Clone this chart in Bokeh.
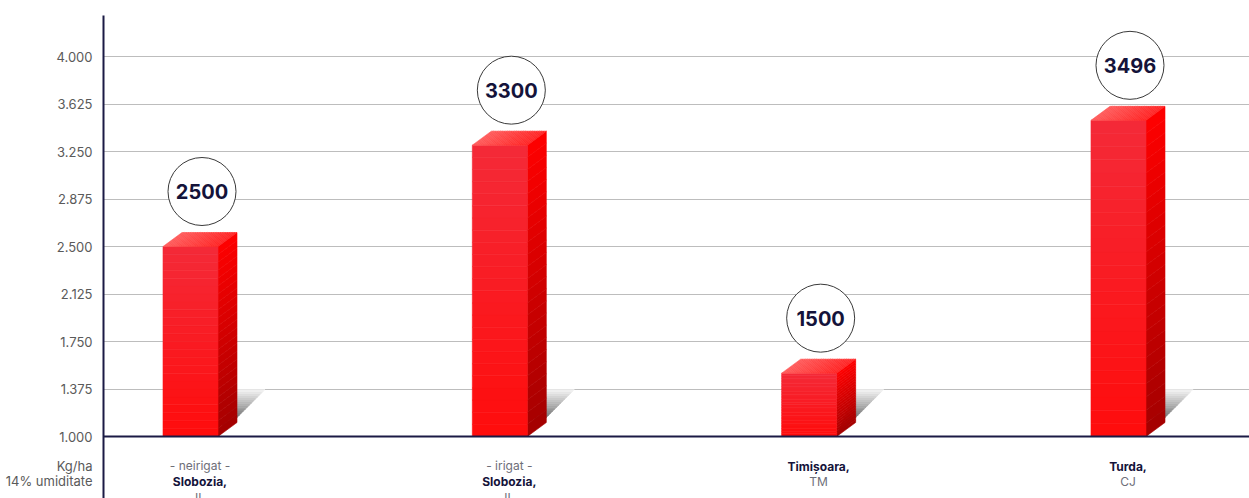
import numpy as np
from bokeh.plotting import figure
from bokeh.models import Range1d, FixedTicker, Span
from bokeh.core.properties import value
from bokeh.embed import file_html
from bokeh.resources import INLINE

# ---------------- data ----------------
top_notes = ["- neirigat -", "- irigat -", "", ""]
locations = ["Slobozia,", "Slobozia,", "Timișoara,", "Turda,"]
counties = ["IL", "IL", "TM", "CJ"]
yields = [2500, 3300, 1500, 3496]
tick_values = [1000, 1375, 1750, 2125, 2500, 2875, 3250, 3625, 4000]
tick_labels = ["1.000", "1.375", "1.750", "2.125", "2.500", "2.875", "3.250", "3.625", "4.000"]
unit_main = "Kg/ha"
unit_sub = "14% umiditate"

# ---------------- layout constants ----------------
W, H = 1249, 498
BL, BT = 103, 15
FW, FH = W - BL, H - BT
CAT_PX = 309.33          # px between categories
FIRST_PX = 87            # px of first bar centre from frame left
BASE = 1000
UY = 3000 / 380.0        # data units per px (y)
UX = 1.0 / CAT_PX        # data units per px (x)
y_end = BASE + 421 * UY
y_start = y_end - FH * UY
x_start = -FIRST_PX * UX
x_end = x_start + FW * UX

NAVY = "#1b1a45"
FONT = "Inter"

p = figure(width=W, height=H, output_backend="svg", toolbar_location=None,
           x_range=Range1d(x_start, x_end), y_range=Range1d(y_start, y_end),
           min_border_left=BL, min_border_top=BT, min_border_right=0, min_border_bottom=0,
           outline_line_color=None)
p.xaxis.visible = False
p.xgrid.visible = False
p.ygrid.ticker = FixedTicker(ticks=tick_values)
p.ygrid.grid_line_color = "#bdbdbd"
p.ygrid.grid_line_width = 1

# unit captions placed on the y axis, below the baseline
unit_pos = [BASE - (465 - 436) * UY, BASE - (480 - 436) * UY]
yax = p.yaxis[0]
yax.ticker = FixedTicker(ticks=tick_values + unit_pos)
overrides = {v: l for v, l in zip(tick_values, tick_labels)}
overrides[unit_pos[0]] = unit_main
overrides[unit_pos[1]] = unit_sub
yax.major_label_overrides = overrides
yax.axis_line_color = NAVY
yax.axis_line_width = 2
yax.major_tick_line_color = None
yax.minor_tick_line_color = None
yax.major_tick_out = 0
yax.major_tick_in = 0
yax.major_label_standoff = 11
yax.major_label_text_font = FONT
yax.major_label_text_font_size = "13px"
yax.major_label_text_color = "#5a5a5a"

BW = 55 * UX
DX = 19 * UX
DY = 14 * UY
SH_H = 47 * UY
SH_W = 28 * UX


def lerp_col(c1, c2, t):
    a = np.array([int(c1[i:i + 2], 16) for i in (1, 3, 5)], float)
    b = np.array([int(c2[i:i + 2], 16) for i in (1, 3, 5)], float)
    c = a + (b - a) * t
    return "#%02x%02x%02x" % tuple(int(round(v)) for v in c)


xs_all, ys_all, cols = [], [], []


def add(xs, ys, col):
    xs_all.append(list(xs)); ys_all.append(list(ys)); cols.append(col)


N = 24
xc = np.arange(len(yields))
# shadows
for i, v in enumerate(yields):
    x1 = xc[i] + BW / 2
    for k in range(N):
        ta, tb = k / N, (k + 1) / N
        La, Lb = x1 + ta * DX, x1 + tb * DX
        Ra, Rb = x1 + ta * (DX + SH_W), x1 + tb * (DX + SH_W)
        ya, yb = BASE + ta * SH_H, BASE + tb * SH_H
        add([La, Ra, Rb, Lb], [ya, ya, yb, yb], lerp_col("#1e1e1e", "#f4f4f4", (ta + tb) / 2))
# side faces
for i, v in enumerate(yields):
    x1 = xc[i] + BW / 2
    for k in range(N):
        ta, tb = k / N, (k + 1) / N
        ya, yb = BASE + (v - BASE) * ta, BASE + (v - BASE) * tb
        add([x1, x1 + DX, x1 + DX, x1], [ya, ya + DY, yb + DY, yb],
            lerp_col("#a30000", "#ff0000", (ta + tb) / 2))
# front faces
for i, v in enumerate(yields):
    x0, x1 = xc[i] - BW / 2, xc[i] + BW / 2
    for k in range(N):
        ta, tb = k / N, (k + 1) / N
        ya, yb = BASE + (v - BASE) * ta, BASE + (v - BASE) * tb
        add([x0, x1, x1, x0], [ya, ya, yb, yb], lerp_col("#ff0c0c", "#f42a38", (ta + tb) / 2))
# top faces
for i, v in enumerate(yields):
    x0 = xc[i] - BW / 2
    for k in range(N):
        ta, tb = k / N, (k + 1) / N
        xa, xb = x0 + BW * ta, x0 + BW * tb
        add([xa, xb, xb + DX, xa + DX], [v, v, v + DY, v + DY],
            lerp_col("#ff5c5c", "#ff2424", (ta + tb) / 2))

p.patches(xs_all, ys_all, fill_color=cols, line_color=cols, line_width=0.6)

# baseline
p.add_layout(Span(location=BASE, dimension="width", line_color=NAVY, line_width=2))

# value bubbles
bx = xc + DX / 2 + 2 * UX
by = np.array(yields) + 55 * UY
p.scatter(bx, by, marker="circle", size=68, fill_color="white", line_color="#3a3a3a", line_width=1)
p.text(bx, by, text=[str(v) for v in yields], text_align="center", text_baseline="middle",
       text_font=value(FONT), text_font_style="bold", text_font_size="20px", text_color="#14133a")

# category labels
lx = xc + DX / 2
for i in range(len(yields)):
    if top_notes[i] != "":
        rows = [(top_notes[i], 465, "normal", "#6e6e78"), (locations[i], 481, "bold", "#14133a"),
                (counties[i], 497, "normal", "#6e6e78")]
    else:
        rows = [(locations[i], 466, "bold", "#14133a"), (counties[i], 481, "normal", "#6e6e78")]
    for txt, ypx, style, col in rows:
        p.text([lx[i]], [BASE - (ypx - 436) * UY], text=[txt], text_align="center",
               text_baseline="middle", text_font=value(FONT), text_font_style=style,
               text_font_size="12px", text_color=col)

open("out.html", "w").write(file_html(p, INLINE))
